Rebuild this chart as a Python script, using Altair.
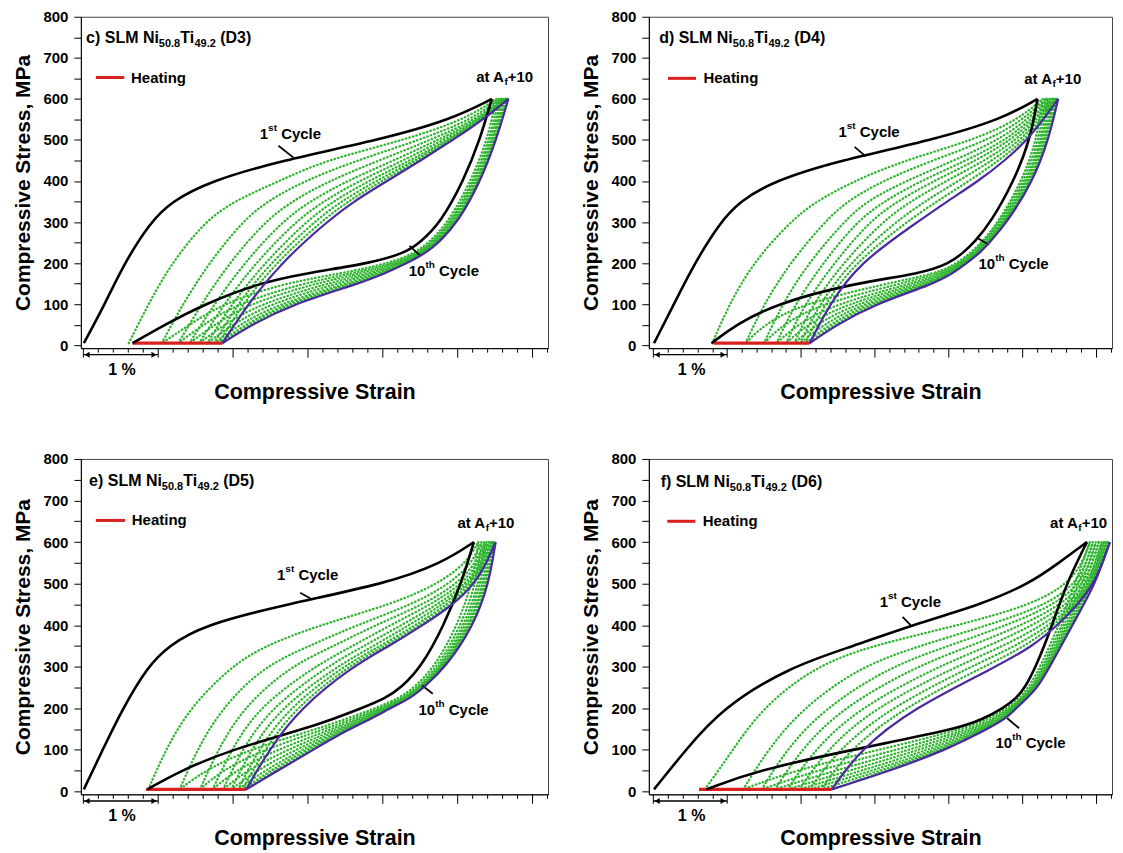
import altair as alt
import pandas as pd

# ---------------- data (strain in %, read at fixed stress levels in MPa) ----------------
LOAD_LEVELS = [5, 100, 200, 300, 350, 400, 450, 500, 550, 600]
UNLOAD_LEVELS = [600, 500, 400, 300, 250, 225, 200, 175, 150, 100, 50, 5]

# c) D3  -- rows: cycle 1 ... cycle 10
D3_LOAD = [
    [0.01, 0.29, 0.55, 0.90, 1.18, 1.70, 2.65, 3.95, 4.92, 5.46],
    [0.61, 0.87, 1.18, 1.62, 2.00, 2.62, 3.22, 4.30, 5.10, 5.52],
    [1.05, 1.33, 1.68, 2.12, 2.45, 2.95, 3.65, 4.50, 5.20, 5.55],
    [1.27, 1.58, 1.95, 2.42, 2.78, 3.28, 3.95, 4.64, 5.26, 5.58],
    [1.42, 1.75, 2.15, 2.65, 3.02, 3.52, 4.15, 4.74, 5.29, 5.60],
    [1.55, 1.88, 2.30, 2.83, 3.20, 3.68, 4.28, 4.81, 5.31, 5.62],
    [1.66, 1.98, 2.42, 2.97, 3.33, 3.81, 4.37, 4.86, 5.32, 5.64],
    [1.75, 2.06, 2.50, 3.08, 3.44, 3.91, 4.43, 4.89, 5.33, 5.66],
    [1.81, 2.13, 2.57, 3.17, 3.53, 3.99, 4.47, 4.92, 5.34, 5.67],
    [1.86, 2.20, 2.64, 3.25, 3.61, 4.06, 4.51, 4.94, 5.35, 5.68],
]
D3_UNLOAD = [
    [5.46, 5.30, 5.08, 4.78, 4.50, 4.30, 3.85, 2.95, 2.32, 1.62, 1.09, 0.66],
    [5.52, 5.40, 5.18, 4.88, 4.62, 4.43, 4.10, 3.45, 2.65, 1.85, 1.42, 1.05],
    [5.55, 5.43, 5.21, 4.91, 4.65, 4.47, 4.16, 3.60, 2.90, 2.05, 1.60, 1.27],
    [5.58, 5.45, 5.23, 4.93, 4.67, 4.50, 4.20, 3.72, 3.08, 2.20, 1.75, 1.42],
    [5.60, 5.47, 5.25, 4.95, 4.69, 4.52, 4.24, 3.82, 3.25, 2.35, 1.88, 1.55],
    [5.62, 5.48, 5.27, 4.97, 4.71, 4.54, 4.27, 3.90, 3.38, 2.48, 1.99, 1.66],
    [5.64, 5.49, 5.28, 4.98, 4.72, 4.55, 4.29, 3.95, 3.50, 2.60, 2.08, 1.75],
    [5.66, 5.50, 5.29, 4.99, 4.73, 4.56, 4.31, 3.99, 3.58, 2.68, 2.16, 1.81],
    [5.67, 5.51, 5.30, 5.00, 4.74, 4.57, 4.32, 4.01, 3.63, 2.74, 2.21, 1.85],
    [5.68, 5.52, 5.31, 5.01, 4.75, 4.58, 4.33, 4.03, 3.68, 2.80, 2.25, 1.86],
]

# d) D4
D4_LOAD = [
    [0.01, 0.28, 0.56, 0.91, 1.17, 1.63, 2.52, 3.79, 4.72, 5.21],
    [0.80, 1.03, 1.35, 1.85, 2.20, 2.72, 3.40, 4.35, 4.95, 5.28],
    [1.25, 1.50, 1.85, 2.32, 2.62, 3.10, 3.78, 4.55, 5.02, 5.32],
    [1.50, 1.75, 2.10, 2.58, 2.88, 3.42, 4.08, 4.68, 5.08, 5.35],
    [1.67, 1.92, 2.30, 2.75, 3.12, 3.62, 4.25, 4.78, 5.13, 5.38],
    [1.80, 2.05, 2.45, 2.92, 3.30, 3.80, 4.38, 4.85, 5.17, 5.41],
    [1.91, 2.16, 2.57, 3.10, 3.48, 3.97, 4.50, 4.92, 5.20, 5.43],
    [1.99, 2.25, 2.66, 3.28, 3.68, 4.13, 4.60, 4.98, 5.24, 5.45],
    [2.06, 2.32, 2.73, 3.43, 3.84, 4.28, 4.69, 5.03, 5.27, 5.47],
    [2.12, 2.39, 2.79, 3.58, 3.98, 4.41, 4.77, 5.07, 5.29, 5.49],
]
D4_UNLOAD = [
    [5.21, 5.11, 4.89, 4.58, 4.35, 4.20, 4.02, 3.65, 2.68, 1.65, 1.12, 0.79],
    [5.28, 5.20, 5.00, 4.68, 4.45, 4.30, 4.12, 3.85, 3.15, 2.00, 1.50, 1.25],
    [5.32, 5.23, 5.03, 4.70, 4.47, 4.33, 4.15, 3.90, 3.35, 2.25, 1.75, 1.50],
    [5.35, 5.26, 5.06, 4.72, 4.49, 4.36, 4.17, 3.94, 3.50, 2.45, 1.95, 1.67],
    [5.38, 5.28, 5.08, 4.74, 4.51, 4.38, 4.19, 3.97, 3.60, 2.60, 2.08, 1.80],
    [5.41, 5.30, 5.10, 4.76, 4.52, 4.39, 4.21, 4.00, 3.68, 2.72, 2.20, 1.91],
    [5.43, 5.32, 5.12, 4.77, 4.53, 4.40, 4.22, 4.02, 3.73, 2.82, 2.30, 1.99],
    [5.45, 5.33, 5.13, 4.78, 4.54, 4.41, 4.23, 4.03, 3.76, 2.90, 2.38, 2.06],
    [5.47, 5.35, 5.14, 4.79, 4.55, 4.42, 4.24, 4.05, 3.79, 2.96, 2.44, 2.11],
    [5.49, 5.36, 5.15, 4.80, 4.56, 4.43, 4.25, 4.06, 3.81, 3.00, 2.49, 2.12],
]

# e) D5
D5_LOAD = [
    [0.01, 0.26, 0.53, 0.86, 1.14, 1.60, 2.70, 4.05, 4.80, 5.22],
    [0.87, 1.10, 1.42, 1.97, 2.42, 3.15, 4.12, 4.75, 5.12, 5.28],
    [1.29, 1.52, 1.85, 2.40, 3.02, 3.65, 4.40, 4.90, 5.20, 5.32],
    [1.56, 1.80, 2.13, 2.75, 3.35, 3.90, 4.55, 5.00, 5.25, 5.36],
    [1.73, 1.98, 2.33, 3.08, 3.60, 4.10, 4.65, 5.07, 5.28, 5.39],
    [1.87, 2.12, 2.50, 3.25, 3.75, 4.25, 4.74, 5.12, 5.31, 5.42],
    [1.98, 2.24, 2.63, 3.38, 3.88, 4.35, 4.81, 5.15, 5.33, 5.45],
    [2.07, 2.34, 2.74, 3.46, 3.97, 4.44, 4.87, 5.18, 5.35, 5.47],
    [2.13, 2.42, 2.83, 3.53, 4.03, 4.50, 4.92, 5.21, 5.37, 5.49],
    [2.18, 2.48, 2.90, 3.59, 4.09, 4.54, 4.95, 5.23, 5.39, 5.51],
]
D5_UNLOAD = [
    [5.22, 5.05, 4.82, 4.52, 4.25, 4.05, 3.72, 3.35, 2.95, 1.97, 1.30, 0.86],
    [5.28, 5.20, 5.00, 4.70, 4.42, 4.23, 3.90, 3.52, 3.12, 2.20, 1.62, 1.29],
    [5.32, 5.25, 5.05, 4.74, 4.46, 4.27, 3.95, 3.60, 3.23, 2.40, 1.85, 1.56],
    [5.36, 5.29, 5.09, 4.77, 4.49, 4.30, 3.99, 3.66, 3.32, 2.58, 2.03, 1.73],
    [5.39, 5.32, 5.12, 4.79, 4.51, 4.32, 4.02, 3.71, 3.39, 2.72, 2.18, 1.87],
    [5.42, 5.35, 5.15, 4.81, 4.52, 4.34, 4.05, 3.76, 3.44, 2.83, 2.31, 1.98],
    [5.45, 5.37, 5.17, 4.82, 4.53, 4.35, 4.07, 3.79, 3.48, 2.92, 2.42, 2.07],
    [5.47, 5.39, 5.19, 4.83, 4.54, 4.36, 4.08, 3.82, 3.51, 2.98, 2.50, 2.13],
    [5.49, 5.41, 5.21, 4.84, 4.54, 4.37, 4.09, 3.84, 3.53, 3.03, 2.56, 2.17],
    [5.51, 5.42, 5.22, 4.85, 4.55, 4.38, 4.10, 3.85, 3.55, 3.07, 2.60, 2.18],
]

# f) D6
D6_LOAD = [
    [0.01, 0.44, 0.93, 1.85, 2.72, 3.50, 4.45, 5.10, 5.50, 5.88],
    [0.70, 1.08, 1.47, 2.18, 2.94, 4.15, 5.15, 5.62, 5.82, 5.92],
    [1.22, 1.55, 2.02, 2.80, 3.60, 4.55, 5.35, 5.72, 5.88, 5.96],
    [1.47, 1.80, 2.32, 3.20, 4.00, 4.80, 5.45, 5.78, 5.92, 6.00],
    [1.65, 2.00, 2.55, 3.55, 4.30, 5.00, 5.54, 5.83, 5.96, 6.04],
    [1.82, 2.18, 2.78, 3.85, 4.55, 5.15, 5.61, 5.88, 6.00, 6.08],
    [1.98, 2.35, 2.98, 4.10, 4.75, 5.28, 5.66, 5.91, 6.03, 6.11],
    [2.12, 2.50, 3.20, 4.30, 4.92, 5.37, 5.70, 5.93, 6.05, 6.14],
    [2.28, 2.65, 3.38, 4.48, 5.05, 5.43, 5.73, 5.95, 6.07, 6.16],
    [2.42, 2.80, 3.52, 4.65, 5.15, 5.48, 5.76, 5.97, 6.09, 6.19],
]
D6_UNLOAD = [
    [5.88, 5.60, 5.41, 5.19, 5.04, 4.93, 4.74, 4.48, 4.12, 2.68, 1.40, 0.72],
    [5.92, 5.72, 5.50, 5.25, 5.09, 4.97, 4.79, 4.55, 4.22, 3.05, 1.90, 1.22],
    [5.96, 5.77, 5.54, 5.28, 5.12, 5.00, 4.83, 4.61, 4.30, 3.30, 2.20, 1.47],
    [6.00, 5.82, 5.57, 5.30, 5.14, 5.02, 4.85, 4.65, 4.36, 3.48, 2.45, 1.65],
    [6.04, 5.86, 5.60, 5.32, 5.16, 5.03, 4.87, 4.69, 4.41, 3.62, 2.65, 1.82],
    [6.08, 5.90, 5.62, 5.34, 5.17, 5.04, 4.88, 4.72, 4.45, 3.74, 2.82, 1.98],
    [6.11, 5.93, 5.64, 5.35, 5.18, 5.05, 4.89, 4.74, 4.48, 3.83, 2.97, 2.12],
    [6.14, 5.96, 5.66, 5.36, 5.19, 5.06, 4.90, 4.76, 4.50, 3.90, 3.08, 2.28],
    [6.16, 5.98, 5.67, 5.37, 5.20, 5.06, 4.91, 4.77, 4.52, 3.94, 3.16, 2.42],
    [6.19, 6.00, 5.68, 5.38, 5.21, 5.07, 4.92, 4.78, 4.53, 3.97, 3.22, 2.42],
]

PANEL_LETTERS = ["c)", "d)", "e)", "f)"]
PANEL_IDS = ["D3", "D4", "D5", "D6"]
HEAT_SPAN = [[0.66, 1.86], [0.82, 2.12], [0.84, 2.18], [0.62, 2.42]]      # strain, at HEAT_STRESS
HEAT_STRESS = 5
TITLE_AT = [[0.04, 748], [0.08, 748], [0.08, 746], [0.10, 744]]
LEGEND_LINE = [[0.17, 0.55, 652], [0.20, 0.58, 650], [0.17, 0.56, 652], [0.19, 0.57, 650]]
LEGEND_TEXT_X = [0.64, 0.68, 0.65, 0.67]
AF_AT = [[5.25, 653], [5.03, 648], [5.00, 646], [5.38, 647]]
FIRST_AT = [[2.36, 515], [2.51, 520], [2.59, 521], [3.07, 456]]
FIRST_LEADER = [[2.61, 486, 2.81, 457], [2.73, 483, 2.88, 460], [2.90, 478, 3.06, 462], [3.38, 420, 3.49, 400]]
TENTH_AT = [[4.35, 182], [4.41, 197], [4.48, 195], [4.64, 116]]
TENTH_LEADER = [[4.36, 242, 4.50, 219], [4.39, 262, 4.55, 245], [4.53, 255, 4.67, 235], [4.80, 176, 4.96, 152]]
SCALE_BAR = [0, 1]          # the "1 %" arrow spans one percent of strain
SCALE_BAR_STRESS = -23
SCALE_TEXT_AT = [0.52, -60]

X_TICKS = [round(i * 0.2, 1) for i in range(0, 32)]
Y_TICKS = list(range(0, 801, 50))

# ---------------- styling ----------------
FONT = "Liberation Sans"
H_TOP, H_BOTTOM = 332, 336
Y_DOM = [-7, 800]
W_LEFT, X_LEFT = 468, [-0.03, 6.21]
W_RIGHT, X_RIGHT = 464, [-0.06, 6.22]
GREEN = "#2fb52f"
BLUE = "#4b2a9e"
RED = "#d9201e"
CURVE = "basis"

# Arial-bold advance widths (em) used to lay out rich text pieces
ADV = {" ": .278, "(": .333, ")": .333, "+": .584, ",": .278, ".": .278, "%": .889,
       "A": .722, "C": .722, "D": .722, "H": .722, "L": .611, "M": .833, "N": .722,
       "S": .667, "T": .611, "a": .556, "c": .556, "d": .611, "e": .556, "f": .333,
       "g": .611, "h": .611, "i": .278, "l": .278, "n": .611, "s": .556, "t": .333,
       "y": .556}


def tw(s, size):
    return sum(ADV.get(ch, .556) for ch in s) * size


def rich(x0, y0, segs, pxx, pxy):
    rows, cur = [], 0.0
    for text, size, dy in segs:
        lead = len(text) - len(text.lstrip(" "))
        cur += tw(" " * lead, size)
        t = text.strip(" ")
        rows.append({"x": x0 + cur / pxx, "y": y0 - dy / pxy, "t": t, "s": size})
        cur += tw(t, size)
    return rows


def panel(i, load, unload, width, xdom, height):
    pxx = width / (xdom[1] - xdom[0])
    pxy = height / (Y_DOM[1] - Y_DOM[0])
    xaxis = alt.Axis(values=X_TICKS, labels=False, grid=False, title="Compressive Strain",
                     titleFontSize=21.5, titleFont=FONT, titleFontWeight="bold", titleColor="black",
                     titlePadding=24, tickColor="black", domainColor="black",
                     tickSize={"condition": {"test": "abs(datum.value - round(datum.value)) < 0.001",
                                             "value": 9}, "value": 4})
    yaxis = alt.Axis(values=Y_TICKS, grid=False, title="Compressive Stress, MPa",
                     labelExpr="datum.value % 100 === 0 ? datum.label : ''",
                     labelFontSize=15, labelFont=FONT, labelFontWeight="bold", labelColor="black",
                     labelPadding=6, tickSize=7, tickColor="black", domainColor="black",
                     titleFontSize=21, titleFont=FONT, titleFontWeight="bold", titleColor="black",
                     titlePadding=9)
    X = alt.X("x:Q", scale=alt.Scale(domain=xdom, nice=False, zero=False), axis=xaxis)
    Y = alt.Y("y:Q", scale=alt.Scale(domain=Y_DOM, nice=False, zero=False), axis=yaxis)

    rows = []
    for c in range(10):
        for k, (lv, sx) in enumerate(zip(LOAD_LEVELS, load[c])):
            rows.append({"x": sx, "y": lv, "cycle": c + 1, "key": f"L{c + 1}", "o": k})
        for k, (lv, sx) in enumerate(zip(UNLOAD_LEVELS, unload[c])):
            rows.append({"x": sx, "y": lv, "cycle": c + 1, "key": f"U{c + 1}", "o": k})
    df = pd.DataFrame(rows)

    def curves(sub, **style):
        return alt.Chart(sub).mark_line(interpolate=CURVE, **style).encode(
            x=X, y=Y, detail="key:N", order="o:Q")

    green = curves(df[(df.cycle > 1) & (df.cycle < 10)], color=GREEN, strokeWidth=2.3,
                   strokeDash=[0.5, 3.2], strokeCap="round")
    black = curves(df[df.cycle == 1], color="black", strokeWidth=2.6)
    blue = curves(df[df.cycle == 10], color=BLUE, strokeWidth=2.2)

    rules = pd.DataFrame([
        {"x": HEAT_SPAN[i][0], "x2": HEAT_SPAN[i][1], "y": HEAT_STRESS, "y2": HEAT_STRESS, "c": RED, "w": 3.2},
        {"x": LEGEND_LINE[i][0], "x2": LEGEND_LINE[i][1], "y": LEGEND_LINE[i][2], "y2": LEGEND_LINE[i][2], "c": RED, "w": 3},
        {"x": FIRST_LEADER[i][0], "x2": FIRST_LEADER[i][2], "y": FIRST_LEADER[i][1], "y2": FIRST_LEADER[i][3], "c": "black", "w": 1.8},
        {"x": TENTH_LEADER[i][0], "x2": TENTH_LEADER[i][2], "y": TENTH_LEADER[i][1], "y2": TENTH_LEADER[i][3], "c": "black", "w": 1.8},
        {"x": SCALE_BAR[0], "x2": SCALE_BAR[1], "y": SCALE_BAR_STRESS, "y2": SCALE_BAR_STRESS, "c": "black", "w": 1.3},
    ])
    rule_layer = alt.Chart(rules).mark_rule(strokeCap="butt").encode(
        x=X, y=Y, x2="x2:Q", y2="y2:Q",
        color=alt.Color("c:N", scale=None), strokeWidth=alt.StrokeWidth("w:Q", scale=None))
    heads = pd.DataFrame([
        {"x": SCALE_BAR[0] + 4 / pxx, "y": SCALE_BAR_STRESS, "sh": "triangle-left"},
        {"x": SCALE_BAR[1] - 4 / pxx, "y": SCALE_BAR_STRESS, "sh": "triangle-right"},
    ])
    head_layer = alt.Chart(heads).mark_point(filled=True, color="black", size=34, opacity=1).encode(
        x=X, y=Y, shape=alt.Shape("sh:N", scale=None))

    trows = []
    trows += rich(TITLE_AT[i][0], TITLE_AT[i][1],
                  [(PANEL_LETTERS[i] + " SLM Ni", 16, 0), ("50.8", 11, 6), ("Ti", 16, 0),
                   ("49.2", 11, 6), (" (" + PANEL_IDS[i] + ")", 16, 0)], pxx, pxy)
    trows += rich(LEGEND_TEXT_X[i], LEGEND_LINE[i][2], [("Heating", 15, 0)], pxx, pxy)
    trows += rich(AF_AT[i][0], AF_AT[i][1], [("at A", 15, 0), ("f", 10, 5), ("+10", 15, 0)], pxx, pxy)
    trows += rich(FIRST_AT[i][0], FIRST_AT[i][1], [("1", 15, 0), ("st", 10, -6), (" Cycle", 15, 0)], pxx, pxy)
    trows += rich(TENTH_AT[i][0], TENTH_AT[i][1], [("10", 15, 0), ("th", 10, -6), (" Cycle", 15, 0)], pxx, pxy)
    one = rich(SCALE_TEXT_AT[0], SCALE_TEXT_AT[1], [("1 %", 16, 0)], pxx, pxy)
    one[0]["x"] -= tw("1 %", 16) / 2 / pxx
    trows += one
    text_layer = alt.Chart(pd.DataFrame(trows)).mark_text(
        align="left", baseline="middle", font=FONT, fontWeight="bold", color="black").encode(
        x=X, y=Y, text="t:N", size=alt.Size("s:Q", scale=None))

    return alt.layer(green, rule_layer, black, blue, head_layer, text_layer).properties(
        width=width, height=height)


top = alt.hconcat(panel(0, D3_LOAD, D3_UNLOAD, W_LEFT, X_LEFT, H_TOP),
                  panel(1, D4_LOAD, D4_UNLOAD, W_RIGHT, X_RIGHT, H_TOP), spacing=31)
bottom = alt.hconcat(panel(2, D5_LOAD, D5_UNLOAD, W_LEFT, X_LEFT, H_BOTTOM),
                     panel(3, D6_LOAD, D6_UNLOAD, W_RIGHT, X_RIGHT, H_BOTTOM), spacing=31)
chart = alt.vconcat(top, bottom, spacing=47).properties(
    padding={"left": 4, "top": 0, "right": 0, "bottom": 0}
).configure(font=FONT).configure_view(stroke="#444", strokeWidth=1).configure_axis(
    domainWidth=1, tickWidth=1)

chart.save("out.html", embed_options={"renderer": "svg", "actions": False})
